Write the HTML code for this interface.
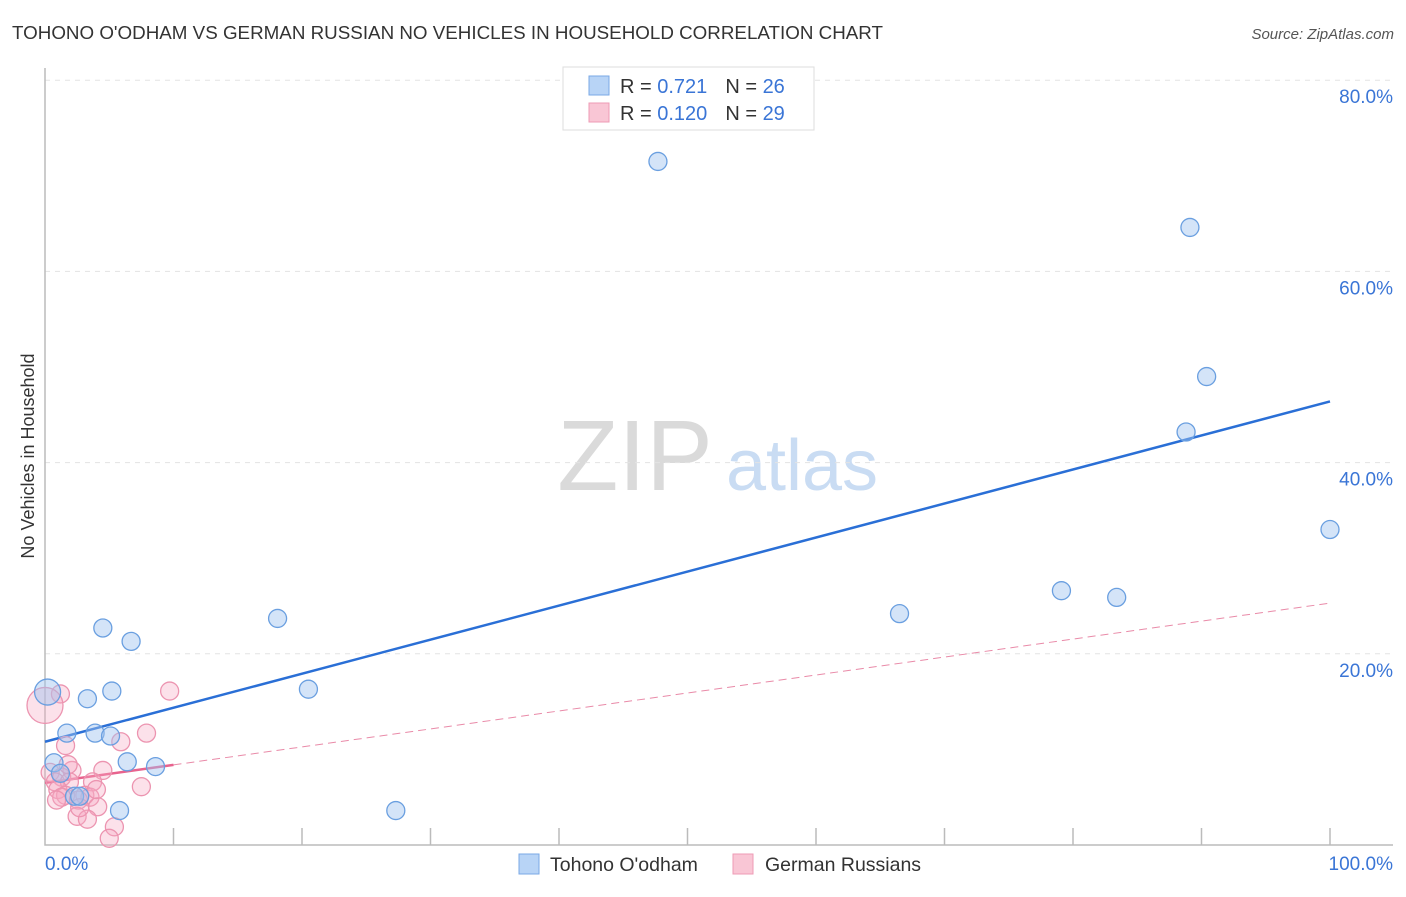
<!DOCTYPE html>
<html><head><meta charset="utf-8"><style>
body{margin:0;background:#fff;font-family:"Liberation Sans",sans-serif;}
svg text{font-family:"Liberation Sans",sans-serif;}
</style></head><body>
<svg id="chart" width="1406" height="892" viewBox="0 0 1406 892" xmlns="http://www.w3.org/2000/svg">
<text x="12" y="39" font-size="18" fill="#333" textLength="871" lengthAdjust="spacingAndGlyphs">TOHONO O'ODHAM VS GERMAN RUSSIAN NO VEHICLES IN HOUSEHOLD CORRELATION CHART</text>
<text x="1394" y="39" font-size="15" fill="#555" text-anchor="end" font-style="italic">Source: ZipAtlas.com</text>
<g>
<text x="635" y="490" font-size="100" fill="#dadada" text-anchor="middle" font-family="Liberation Serif,serif">ZIP</text>
<text x="802" y="490" font-size="72" fill="#c9dcf3" text-anchor="middle">atlas</text>
</g>
<g id="grid"></g><g id="axes"></g><g id="lines"></g><g id="points"></g>
<text transform="translate(34,456) rotate(-90)" font-size="18" fill="#333" text-anchor="middle">No Vehicles in Household</text>
<text x="45" y="870" font-size="19" fill="#3a75d6">0.0%</text>
<text x="1393" y="870" font-size="19" fill="#3a75d6" text-anchor="end">100.0%</text>
<g>
<rect x="563" y="67" width="251" height="63" fill="#fff" stroke="#ddd"/>
<rect x="589" y="76" width="20" height="19" fill="#b8d4f6" stroke="#7aa8e6"/>
<rect x="589" y="103" width="20" height="19" fill="#f9c6d5" stroke="#ee9bb5"/>
<text x="620" y="93" font-size="20" fill="#333">R = <tspan fill="#3a75d6">0.721</tspan><tspan dx="18">N = </tspan><tspan fill="#3a75d6">26</tspan></text>
<text x="620" y="120" font-size="20" fill="#333">R = <tspan fill="#3a75d6">0.120</tspan><tspan dx="18">N = </tspan><tspan fill="#3a75d6">29</tspan></text>
</g>
<g>
<rect x="519" y="854" width="20" height="20" fill="#b8d4f6" stroke="#7aa8e6"/>
<text x="550" y="871" font-size="19.5" fill="#333">Tohono O'odham</text>
<rect x="733" y="854" width="20" height="20" fill="#f9c6d5" stroke="#ee9bb5"/>
<text x="765" y="871" font-size="19.5" fill="#333">German Russians</text>
</g>
</svg>
<script>
const yTicks=[20,40,60,80];
const yTickLabels=["20.0%","40.0%","60.0%","80.0%"];
const xTicks=[10,20,30,40,50,60,70,80,90,100];
const blueX=[47.7,89.1,90.4,88.8,100,79.1,83.4,66.5,18.1,4.5,6.7,20.5,5.2,0.2,3.3,1.7,3.9,5.1,6.4,8.6,0.7,1.2,2.3,2.7,5.8,27.3];
const blueY=[71.5,64.6,49.0,43.2,33.0,26.6,25.9,24.2,23.7,22.7,21.3,16.3,16.1,16.0,15.3,11.7,11.7,11.4,8.7,8.2,8.6,7.5,5.1,5.1,3.6,3.6];
const blueR=[9,9,9,9,9,9,9,9,9,9,9,9,9,13,9,9,9,9,9,9,9,9,9,9,9,9];
const pinkX=[9.7,1.2,0,7.9,5.9,1.6,4.5,2.1,0.4,1.3,3.7,7.5,0.8,1.9,1.0,1.6,3.1,3.5,1.3,2.6,4.1,2.5,3.3,5.4,5.0,1.8,2.7,4.0,0.9];
const pinkY=[16.1,15.8,14.6,11.7,10.8,10.4,7.8,7.8,7.6,7.1,6.6,6.1,6.6,6.6,5.8,5.2,5.2,5.0,5.0,4.7,4.0,3.0,2.7,1.9,0.7,8.4,3.9,5.8,4.7];
const pinkR=[9,9,18,9,9,9,9,9,9,9,9,9,9,9,9,9,9,9,9,9,9,9,9,9,9,9,9,9,9];
const blueFit=[10.8,0.356];
const pinkFit=[6.5,0.188];
const X=v=>45+v*12.85, Y=v=>845-v*9.56;
const NS="http://www.w3.org/2000/svg";
function mk(parent,tag,attrs){const e=document.createElementNS(NS,tag);for(const k in attrs)e.setAttribute(k,attrs[k]);document.getElementById(parent).appendChild(e);return e;}
yTicks.forEach((t,i)=>{
 const g=mk('grid','line',{x1:45,x2:1393,y1:Y(t),y2:Y(t),stroke:'#e3e3e3','stroke-dasharray':'5,5'});
 
 
 const l=mk('grid','text',{x:1393,y:Y(t)+23,'font-size':19,fill:'#3a75d6','text-anchor':'end'});
 l.textContent=yTickLabels[i];
 
 
});
const ax=mk('axes','path',{d:'M45 68 V845 H1393',fill:'none',stroke:'#bbb','stroke-width':1.5});


xTicks.forEach(t=>{
 const k=mk('axes','line',{x1:X(t),x2:X(t),y1:828,y2:845,stroke:'#bbb','stroke-width':1.5});
 
 
});
const bl=mk('lines','line',{x1:X(0),y1:Y(blueFit[0]),x2:X(100),y2:Y(blueFit[0]+100*blueFit[1]),stroke:'#2a6fd6','stroke-width':2.5});


const pd=mk('lines','line',{x1:X(10),y1:Y(pinkFit[0]+10*pinkFit[1]),x2:X(100),y2:Y(pinkFit[0]+100*pinkFit[1]),stroke:'#e98aa8','stroke-width':1,'stroke-dasharray':'8,5'});


const ps=mk('lines','line',{x1:X(0),y1:Y(pinkFit[0]),x2:X(10),y2:Y(pinkFit[0]+10*pinkFit[1]),stroke:'#e8638e','stroke-width':2.5});


pinkX.forEach((x,i)=>{
 const c=mk('points','circle',{cx:X(x),cy:Y(pinkY[i]),r:pinkR[i],fill:'rgba(246,170,195,0.35)',stroke:'#ec94b0','stroke-width':1.3});
 
 
});
blueX.forEach((x,i)=>{
 const c=mk('points','circle',{cx:X(x),cy:Y(blueY[i]),r:blueR[i],fill:'rgba(160,196,240,0.45)',stroke:'#6a9fe0','stroke-width':1.3});
 
 
});
</script>
</body></html>
